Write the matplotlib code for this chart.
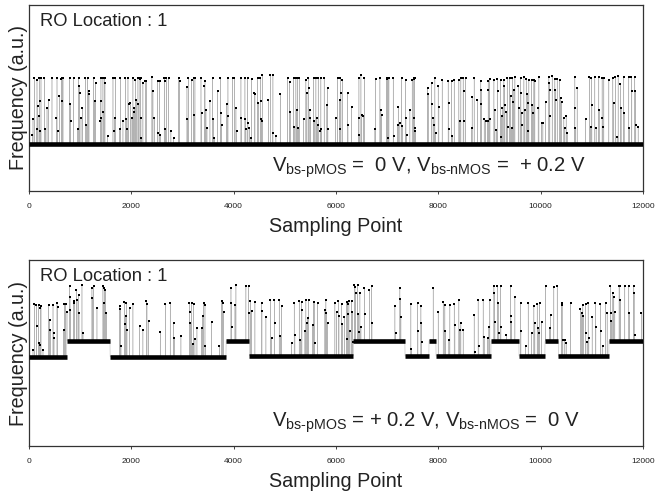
import numpy as np
import matplotlib
matplotlib.use("Agg")
import matplotlib.pyplot as plt

plt.rcParams['font.family'] = ['Liberation Sans', 'DejaVu Sans']
plt.rcParams['mathtext.fontset'] = 'custom'
plt.rcParams['mathtext.rm'] = 'Liberation Sans'
plt.rcParams['mathtext.it'] = 'Liberation Sans'

N_POINTS = 12000
x_ticks = [0, 2000, 4000, 6000, 8000, 10000, 12000]
x_tick_labels = ["0", "2000", "4000", "6000", "8000", "10000", "12000"]

# ---------------- top panel: Vbs-pMOS = 0 V, Vbs-nMOS = +0.2 V ----------------
top_seg_start = [0]
top_seg_end = [12000]
top_seg_level = [0.253]
top_amp = 0.355
top_x = [65, 78, 104, 156, 169, 150, 202, 208, 195, 221, 234, 300, 319, 352, 384, 449, 547, 534, 560, 592,
         632, 638, 645, 651, 664, 794, 807, 814, 872, 951, 970, 983, 990, 1042, 1016, 1100, 1120, 1146, 1165, 1172,
         1263, 1283, 1302, 1406, 1400, 1413, 1393, 1445, 1452, 1478, 1484, 1536, 1641, 1673, 1667, 1686, 1784, 1771,
         1836, 1881, 1901, 1914, 1934, 1947, 1979, 2012, 2031, 2044, 2057, 2077, 2096, 2129, 2135, 2168, 2174, 2181,
         2187, 2194, 2226, 2272, 2292, 2402, 2422, 2448, 2513, 2519, 2552, 2565, 2643, 2650, 2663, 2682, 2728, 2773,
         2825, 2923, 2943,
         3087, 3094, 3113, 3178, 3217, 3243, 3230, 3361, 3374, 3426, 3439, 3458, 3478, 3536, 3588, 3601, 3621, 3686,
         3738, 3751, 3764, 3862, 3881, 3888, 3979, 4012, 4044, 4057, 4142, 4148, 4220, 4226, 4239, 4272, 4278, 4305,
         4350, 4337, 4402, 4415, 4467, 4480, 4519, 4526, 4532, 4545, 4558, 4676, 4715, 4760, 4767, 4825, 4910, 5053,
         5105, 5092, 5170, 5183, 5216, 5235, 5249, 5262, 5281, 5366, 5411, 5431, 5457, 5463, 5489, 5496, 5561, 5574,
         5607, 5626, 5639, 5691, 5652, 5704, 5711, 5769, 5821, 5834, 5841,
         6031, 5992, 6077, 6083, 6096, 6070, 6122, 6226, 6233, 6305, 6448, 6441, 6454, 6487, 6500, 6532, 6552, 6773,
         6760, 6858, 6877, 6890, 6988, 6995, 7001, 7020, 7008, 7034, 7118, 7125, 7203, 7216, 7248, 7281, 7294, 7359,
         7366, 7379, 7444, 7489, 7515, 7522, 7528, 7535, 7541, 7548, 7789, 7802, 7867, 7873, 7899, 7919, 7932, 7945,
         7997, 8010, 8075, 8192, 8199, 8205, 8258, 8271, 8310, 8401, 8420, 8440, 8485, 8492, 8498, 8531, 8648, 8661,
         8700, 8765, 8830, 8837, 8843, 8896, 8922, 8961, 8974, 8980,
         9001, 9008, 9086, 9105, 9131, 9151, 9157, 9216, 9222, 9235, 9248, 9281, 9287, 9300, 9346, 9327, 9353, 9392,
         9411, 9431, 9444, 9457, 9476, 9496, 9561, 9574, 9606, 9613, 9626, 9632, 9672, 9691, 9717, 9737, 9756, 9743,
         9769, 9821, 9834, 9847, 9867, 9886, 9965, 9951, 10017, 10043, 10095, 10160, 10166, 10173, 10179, 10225,
         10277, 10284, 10290, 10323, 10368, 10388, 10407, 10453, 10472, 10498, 10518, 10668, 10674, 10661, 10713,
         10876, 10954, 10993, 11000, 10974, 11058, 11084, 11136, 11143, 11201, 11208, 11214, 11234, 11332, 11410,
         11429, 11462, 11514, 11494, 11559, 11572, 11624, 11631, 11722, 11735, 11774, 11781, 11839, 11852, 11859,
         11905]
top_h = [0.14, 0.38, 1.0, 0.97, 0.57, 0.22, 1.0, 0.65, 0.42, 0.19, 1.0, 1.0, 0.22, 0.55, 0.67, 1.0, 1.0, 0.39, 0.19, 0.72,
         0.99, 1.0, 1.0, 0.65, 1.0, 1.0, 0.6, 0.34, 1.0, 0.23, 1.0, 0.87, 0.77, 0.55, 0.39, 1.0, 0.28, 1.0, 0.8, 0.75,
         1.0, 0.65, 0.92, 1.0, 0.65, 0.39, 0.34, 1.0, 0.49, 1.0, 0.92, 0.12, 1.0, 0.39, 0.19, 1.0, 1.0, 0.22,
         0.35, 1.0, 0.37, 0.22, 1.0, 0.6, 0.62, 0.39, 1.0, 0.49, 0.55, 0.97, 0.67, 1.0, 0.6, 0.99, 1.0, 1.0,
         0.39, 0.09, 0.92, 0.95, 0.95, 1.02, 0.8, 0.39, 0.96, 0.17, 0.95, 0.14, 1.0, 0.95, 0.22, 1.0, 1.0, 0.19,
         0.09, 1.0, 0.95,
         0.86, 0.37, 1.0, 0.97, 1.0, 1.0, 0.44, 1.0, 0.47, 0.87, 0.95, 0.52, 0.24, 0.65, 1.0, 0.37, 0.09, 0.8,
         1.0, 0.47, 0.29, 0.6, 0.42, 1.0, 1.0, 1.0, 0.55, 0.19, 1.0, 0.39, 1.0, 0.37, 0.22, 1.0, 0.32, 0.24,
         0.99, 0.09, 0.77, 0.76, 1.0, 0.62, 1.0, 0.65, 0.37, 0.34, 1.04, 0.66, 1.05, 0.17, 1.04, 0.12, 0.75, 1.0,
         0.49, 0.94, 1.0, 0.25, 1.0, 0.52, 1.0, 0.24, 1.0, 0.37, 0.97, 0.77, 1.0, 0.84, 0.52, 0.39, 1.0, 0.34,
         1.0, 0.39, 0.29, 0.19, 1.0, 1.0, 0.22, 1.0, 0.59, 0.85, 0.22,
         1.0, 0.39, 0.22, 1.0, 0.77, 0.67, 0.97, 0.77, 0.29, 0.56, 1.0, 0.39, 0.14, 1.04, 0.44, 0.43, 1.0, 0.99,
         0.22, 1.0, 0.51, 0.44, 0.99, 0.99, 1.0, 1.0, 0.09, 1.0, 1.0, 0.12, 0.29, 0.56, 0.32, 1.0, 0.27, 0.97,
         0.39, 0.14, 0.51, 0.97, 0.39, 0.99, 1.0, 1.0, 0.24, 0.19, 0.84, 0.75, 0.92, 0.6, 0.39, 0.29, 1.0, 0.17,
         0.87, 0.56, 0.97, 0.96, 0.62, 0.22, 0.96, 0.12, 0.97, 0.97, 0.34, 1.0, 1.0, 0.8, 0.35, 1.0, 0.24, 0.71,
         1.0, 0.67, 0.96, 0.82, 0.6, 0.37, 0.34, 0.34, 0.95, 0.82,
         0.98, 0.37, 0.97, 0.52, 0.21, 0.98, 0.8, 0.97, 0.11, 0.42, 0.54, 0.97, 0.87, 0.59, 1.0, 0.49, 0.26, 1.0,
         0.72, 0.24, 1.0, 0.64, 0.82, 1.02, 0.87, 0.54, 1.0, 0.77, 0.47, 0.29, 1.02, 0.52, 0.98, 0.75, 0.62, 0.19,
         0.97, 0.97, 0.59, 0.47, 0.97, 0.95, 1.02, 0.54, 0.31, 0.32, 0.64, 1.02, 0.92, 0.82, 0.42, 1.03,
         0.98, 0.82, 0.67, 0.98, 0.97, 0.7, 0.64, 0.39, 0.24, 0.42, 0.16, 1.02, 0.24, 0.54, 0.85,
         0.38, 1.02, 1.0, 0.59, 0.26, 1.02, 0.24, 1.02, 0.52, 1.0, 0.39, 0.26, 1.0, 0.97, 1.0,
         0.62, 1.02, 1.03, 0.11, 0.9, 0.54, 1.02, 0.47, 1.02, 0.24, 1.02, 0.8, 1.02, 0.8, 0.29,
         0.26]

# ------------- bottom panel: Vbs-pMOS = +0.2 V, Vbs-nMOS = 0 V -------------
bot_seg_start = [0, 737, 1583, 3850, 4305, 6338, 7347, 7816, 7953, 9028, 9575, 10083, 10343, 11333]
bot_seg_end = [737, 1583, 3850, 4305, 6338, 7347, 7816, 7953, 9028, 9575, 10083, 10343, 11333, 12000]
bot_seg_level = [0.477, 0.565, 0.480, 0.565, 0.486, 0.566, 0.484, 0.566, 0.484, 0.565, 0.484, 0.565, 0.484, 0.565]
bot_amp = 0.287
bot_x = [104, 78, 143, 150, 189, 195, 208, 234, 221, 273, 384, 404, 417, 469, 482, 488, 547, 560, 690, 677, 716,
         742, 794, 801, 807, 872, 885, 924, 938, 970, 977, 1035, 1055, 1230, 1237, 1263, 1328, 1445, 1471, 1458,
         1491, 1510, 1771, 1784, 1797, 1862, 1868, 1901, 1888, 1914, 1966, 2031, 2161, 2226, 2292, 2305, 2337,
         2565, 2663, 2760, 2825, 2838, 2969,
         3133, 3139, 3152, 3178, 3198, 3217, 3243, 3282, 3374, 3413, 3393, 3439, 3445, 3569, 3719, 3764, 3784, 3803,
         3947, 3953, 3960, 4044, 4025, 4239, 4292, 4298, 4324, 4350, 4415, 4545, 4552, 4630, 4715, 4741, 4793, 4799,
         4890, 4910, 4936, 5131, 5183, 5196, 5281, 5327, 5333, 5301, 5411, 5392, 5431, 5444, 5463, 5561, 5541, 5574,
         5581, 5639, 5802, 5782, 5808, 5834, 5978,
         6012, 6044, 6057, 6109, 6122, 6161, 6207, 6226, 6233, 6213, 6252, 6272, 6305, 6318, 6324, 6357, 6370, 6383,
         6422, 6435, 6448, 6467, 6487, 6552, 6558, 6650, 6695, 6702, 7151, 7164, 7248, 7255, 7268, 7463, 7470, 7593,
         7600, 7659, 7665, 7672, 7899, 7997, 8095, 8127, 8134, 8225, 8205, 8310, 8323, 8401, 8420, 8440, 8485, 8700,
         8713, 8778, 8791, 8876, 8896, 8961, 8987, 9006,
         9086, 9092, 9105, 9151, 9170, 9183, 9216, 9222, 9327, 9411, 9418, 9424, 9496, 9606, 9613, 9704, 9756, 9821,
         9867, 9886, 9932, 9951, 9958, 9978, 10017, 10095, 10192, 10173, 10257, 10323, 10407, 10420, 10433, 10472,
         10498, 10583, 10778, 10798, 10824, 10830, 10876, 10882, 10928, 10908, 10941, 11006, 11071, 11078, 11169,
         11175, 11267, 11214, 11299, 11364, 11371, 11384, 11410, 11429, 11449, 11533, 11540, 11546, 11559, 11644,
         11722, 11735, 11820, 11826, 11839, 11970]
bot_h = [1.0, 0.14, 0.98, 0.58, 0.98, 0.26, 0.23, 0.96, 0.92, 0.14, 0.98, 0.7, 0.51, 0.98, 0.45, 0.36, 1.01, 0.95, 1.0, 0.51, 1.0,
         0.55, 1.02, 0.83, 0.58, 0.74, 0.71, 0.96, 0.77, 0.86, 0.52, 1.05, 0.14, 1.0, 0.8, 1.02, 0.61, 1.02, 0.99, 0.71,
         0.96, 0.52, 0.95, 0.89, 0.2, 1.02, 0.61, 1.01, 0.76, 0.51, 0.92, 0.98, 0.58, 0.51, 1.05, 0.98, 0.67,
         0.46, 0.98, 1.01, 0.64, 0.36, 0.39,
         1.0, 0.83, 0.64, 1.01, 0.23, 0.98, 0.33, 0.53, 0.54, 1.01, 0.76, 0.96, 0.2, 0.65, 0.2, 1.04, 1.01, 0.83,
         0.99, 0.71, 0.27, 1.05, 0.68, 1.03, 1.02, 0.52, 1.02, 0.83, 1.0, 0.98, 0.83, 0.73, 1.05, 0.33, 1.04, 0.61,
         1.04, 0.36, 0.93, 0.23, 0.98, 0.39, 1.02, 1.0, 0.86, 0.29, 1.04, 0.46, 0.61, 0.71, 1.05, 1.0, 0.58, 1.0,
         0.24, 0.99, 1.04, 0.86, 0.8, 0.61, 0.99,
         0.81, 1.03, 0.75, 0.97, 0.59, 0.72, 1.0, 0.97, 0.78, 0.31, 1.02, 0.47, 1.03, 0.81, 0.25, 1.04, 1.01, 0.89,
         1.04, 0.51, 0.17, 0.89, 0.26, 0.98, 0.51, 0.95, 1.02, 0.34, 0.65, 0.14, 0.98, 0.78, 0.45, 0.98, 0.14, 1.0,
         0.46, 0.93, 0.61, 0.27, 0.98, 0.83, 1.02, 0.96, 0.46, 0.96, 0.3, 0.98, 0.58, 1.04, 0.49, 0.61, 0.49, 0.77,
         0.08, 1.04, 0.18, 1.04, 0.36, 0.33, 0.55, 1.04,
         1.02, 0.89, 0.36, 1.03, 0.71, 0.14, 1.03, 0.27, 0.11, 1.02, 0.46, 0.36, 0.83, 1.0, 0.46, 0.18, 0.99, 0.43,
         0.94, 0.61, 0.98, 0.52, 0.43, 1.0, 0.64, 1.02, 0.49, 0.24, 1.01, 1.03, 1.0, 0.96, 0.3, 0.3,
         0.24, 0.99, 0.88, 0.8, 0.96, 0.74, 0.98, 0.43, 1.0, 0.27, 0.33, 0.73, 1.0, 0.55, 0.98,
         0.46, 1.0, 0.18, 0.8, 1.03, 0.52, 0.38, 0.89, 0.83, 0.55, 1.03, 1.03, 1.03, 0.77, 1.02,
         1.03, 0.52, 1.03, 0.89, 0.11, 0.53]

top_note = r"$\mathregular{V_{bs\text{-}pMOS}}$ =  0 V, $\mathregular{V_{bs\text{-}nMOS}}$ =  + 0.2 V"
bot_note = r"$\mathregular{V_{bs\text{-}pMOS}}$ = + 0.2 V, $\mathregular{V_{bs\text{-}nMOS}}$ =  0 V"
panel_title = "RO Location : 1"
x_label = "Sampling Point"
y_label = "Frequency (a.u.)"


def build_series(seg_start, seg_end, seg_level, xs, hs, amp):
    base = np.zeros(N_POINTS)
    for s, e, lv in zip(seg_start, seg_end, seg_level):
        base[s:e] = lv
    y = base.copy()
    xs = np.asarray(xs)
    y[xs] = base[xs] + amp * np.asarray(hs)
    return base, y


def draw_panel(ax, seg_start, seg_end, seg_level, xs, hs, amp, note):
    base, y = build_series(seg_start, seg_end, seg_level, xs, hs, amp)
    xx = np.arange(N_POINTS)
    ax.plot(xx, y, color='k', lw=0.35, alpha=0.3, zorder=2)
    for s, e, lv in zip(seg_start, seg_end, seg_level):
        ax.plot([s, e - 1], [lv, lv], color='k', lw=3.3, solid_capstyle='butt', zorder=3)
    xs = np.asarray(xs)
    ax.plot(xs, y[xs], 's', color='k', ms=1.6, mew=0, zorder=4)
    ax.set_xlim(0, 12000)
    ax.set_ylim(0, 1)
    ax.set_yticks([])
    ax.set_xticks(x_ticks)
    ax.set_xticklabels(x_tick_labels)
    ax.tick_params(axis='x', labelsize=6, length=2.5, width=0.6, pad=6, colors='#222222')
    for sp in ax.spines.values():
        sp.set_linewidth(0.9)
        sp.set_color('#333333')
    ax.set_xlabel(x_label, fontsize=14.2, labelpad=5, color='#222222')
    ax.set_ylabel(y_label, fontsize=14.2, labelpad=1, color='#222222')
    ax.text(0.018, 0.91, panel_title, transform=ax.transAxes, fontsize=13.2,
            ha='left', va='center', color='#222222')
    ax.text(0.396, 0.125, note, transform=ax.transAxes, fontsize=14.6,
            ha='left', va='center', color='#222222')


fig = plt.figure(figsize=(6.55, 4.93), dpi=100)
ax1 = fig.add_axes([0.0443, 0.6126, 0.9374, 0.3773])
ax2 = fig.add_axes([0.0443, 0.0953, 0.9374, 0.3773])
draw_panel(ax1, top_seg_start, top_seg_end, top_seg_level, top_x, top_h, top_amp, top_note)
draw_panel(ax2, bot_seg_start, bot_seg_end, bot_seg_level, bot_x, bot_h, bot_amp, bot_note)
fig.savefig("out.png", dpi=100)
